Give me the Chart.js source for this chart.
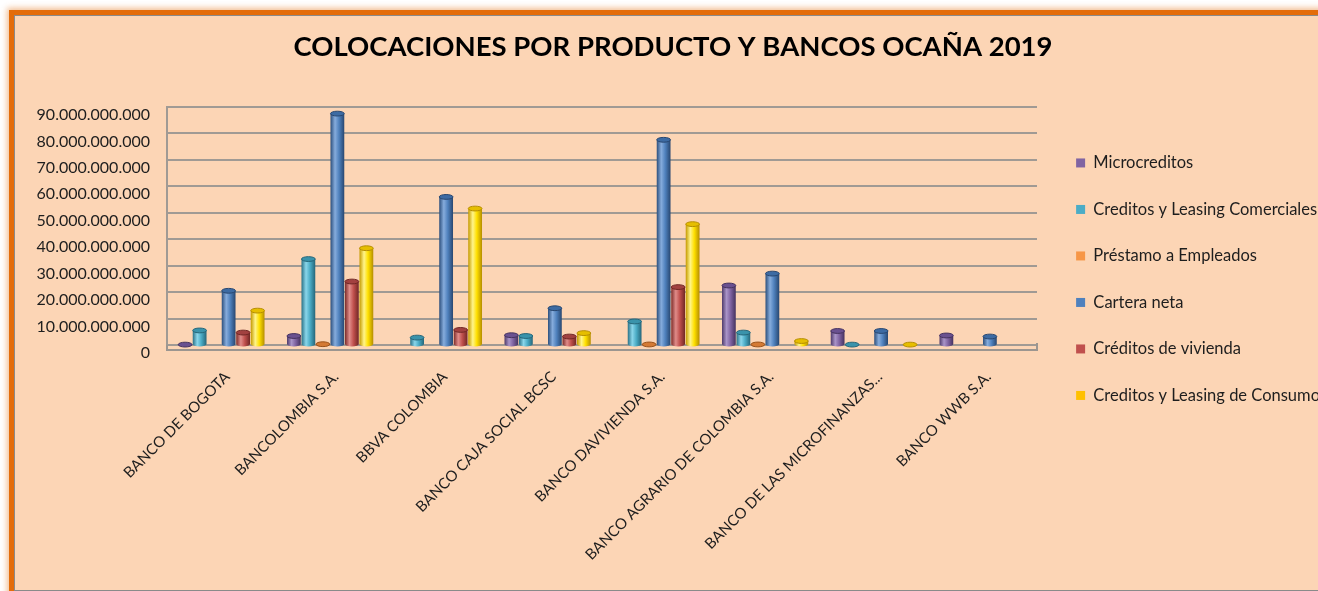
<!DOCTYPE html>
<html><head><meta charset="utf-8">
<script src="https://cdn.jsdelivr.net/npm/chart.js@4"></script>
<style>
html,body{margin:0;padding:0;background:#fff;overflow:hidden;width:1318px;height:591px;}
#frame{position:absolute;left:9px;top:10px;width:1340px;height:620px;border:5px solid #E36C0A;box-shadow:0 0 6px 2px rgba(227,108,10,0.45);}
#inner{position:absolute;left:14px;top:15px;width:1330px;height:574px;background:#FCD5B5;border:1px solid #8a8a8a;}
#c{position:absolute;left:16px;top:16px;}
</style></head><body>
<div id="frame"></div><div id="inner"></div>
<canvas id="c" width="1314" height="574"></canvas>
<script>
const TITLE = 'COLOCACIONES POR PRODUCTO Y BANCOS OCAÑA 2019';
const categories = ['BANCO DE BOGOTA','BANCOLOMBIA S.A.','BBVA COLOMBIA','BANCO CAJA SOCIAL BCSC','BANCO DAVIVIENDA S.A.','BANCO AGRARIO DE COLOMBIA S.A.','BANCO DE LAS MICROFINANZAS...','BANCO WWB S.A.'];
const seriesNames = ['Microcreditos','Creditos y Leasing Comerciales','Préstamo a Empleados','Cartera neta','Créditos de vivienda','Creditos y Leasing de Consumo'];
const microcreditos = [0.15e9, 3.4e9, null, 3.7e9, null, 22.5e9, 5.3e9, 3.6e9];
const comerciales  = [5.5e9, 32.5e9, 2.8e9, 3.4e9, 8.9e9, 4.7e9, 0.15e9, null];
const empleados    = [null, 0.3e9, null, null, 0.2e9, 0.2e9, null, null];
const carteraNeta  = [20.5e9, 87.5e9, 56e9, 13.9e9, 77.6e9, 27e9, 5.3e9, 3.2e9];
const vivienda     = [4.7e9, 24e9, 5.7e9, 3.2e9, 21.9e9, null, null, null];
const consumo      = [13e9, 36.6e9, 51.6e9, 4.5e9, 45.7e9, 1.5e9, 0.15e9, null];
const yTicks = [0,10e9,20e9,30e9,40e9,50e9,60e9,70e9,80e9,90e9];

const seriesValues = [microcreditos, comerciales, empleados, carteraNeta, vivienda, consumo];
const legendColors = ['#8064A2','#4BACC6','#F79646','#4F81BD','#C0504D','#FFC000'];
// [dark edge, highlight, base, dark edge right, top cap]
const shades = [
  ['#4E3A6A','#A994C8','#8064A2','#45325F','#6A5190'],
  ['#2A7186','#8AD6EA','#4BACC6','#256679','#3A93AB'],
  ['#A85A1E','#FCC494','#F79646','#9A521A','#D47A34'],
  ['#2C4F7C','#86ACDC','#4F81BD','#284770','#3D6BA3'],
  ['#7E2C2A','#E08C89','#C0504D','#712725','#A24140'],
  ['#C49A00','#FFF48A','#FFE000','#B58E00','#E6BE00']
];
const fmt = v => String(Math.round(v)).replace(/\B(?=(\d{3})+(?!\d))/g, '.');
const FONT = 'Lato';

const floorPlugin = {
  id:'floor',
  beforeDatasetsDraw(chart){
    const {ctx, chartArea:a} = chart;
    ctx.save();
    ctx.strokeStyle = '#9c9690'; ctx.lineWidth = 2;
    ctx.beginPath();
    ctx.moveTo(a.left, a.bottom); ctx.lineTo(a.left, a.bottom+5);
    ctx.lineTo(a.right, a.bottom+5); ctx.lineTo(a.right, a.bottom-2);
    ctx.stroke();
    ctx.restore();
    chart.data.datasets.forEach((ds,di)=>{
      const meta = chart.getDatasetMeta(di);
      const p = shades[di];
      meta.data.forEach((el,i)=>{
        if (ds.data[i] == null) return;
        const l = el.x - el.width/2, r = el.x + el.width/2;
        const g = ctx.createLinearGradient(l,0,r,0);
        g.addColorStop(0,p[0]); g.addColorStop(0.33,p[1]); g.addColorStop(0.62,p[2]); g.addColorStop(1,p[3]);
        el.options.backgroundColor = g;
        el.$grad = g;
      });
    });
  },
  afterDatasetsDraw(chart){
    const ctx = chart.ctx;
    ctx.save();
    chart.data.datasets.forEach((ds,di)=>{
      const meta = chart.getDatasetMeta(di);
      const p = shades[di];
      meta.data.forEach((el,i)=>{
        if (ds.data[i] == null) return;
        const rx = el.width/2, ry = 2.4;
        ctx.beginPath(); ctx.ellipse(el.x, el.base, rx, ry, 0, 0, Math.PI);
        ctx.fillStyle = el.$grad; ctx.fill();
        ctx.beginPath(); ctx.ellipse(el.x, el.y, rx, ry, 0, 0, Math.PI*2);
        ctx.fillStyle = p[4]; ctx.fill();
        ctx.strokeStyle = p[3]; ctx.lineWidth = 1; ctx.stroke();
      });
    });
    ctx.restore();
  }
};

const RIGHT_EDGE = 1021;
new Chart(document.getElementById('c'), {
  type:'bar',
  data:{
    labels: categories,
    datasets: seriesNames.map((n,i)=>({
      label:n, data:seriesValues[i],
      backgroundColor: (c)=>legendColors[c.datasetIndex],
      borderWidth:0,
      categoryPercentage:0.8, barPercentage:0.95
    }))
  },
  options:{
    responsive:false, animation:false, devicePixelRatio:1,
    layout:{padding:0},
    plugins:{
      title:{display:true, text:TITLE, color:'#000', font:{family:FONT, size:27.5, weight:'bold'}, padding:{top:14.5, bottom:43.5}},
      legend:{position:'right', align:'start', maxWidth:400,
        title:{display:true, text:' ', font:{size:1}, padding:{top:107.5,bottom:0}},
        labels:{boxWidth:9, boxHeight:9, padding:30, color:'#1e1e1e', font:{family:FONT, size:16.5}}},
      tooltip:{enabled:false}
    },
    scales:{
      x:{grid:{display:false}, border:{display:false},
        ticks:{autoSkip:false, minRotation:45, maxRotation:45, padding:15, labelOffset:6, color:'#1e1e1e', font:{family:FONT, size:15}},
        afterFit(s){ s.height = 245; }},
      y:{min:0, max:90e9, afterBuildTicks(s){ s.ticks = yTicks.map(v=>({value:v})); },
        grid:{color:'#a09a94', lineWidth:2, drawTicks:false},
        border:{display:true, color:'#a09a94', width:2},
        ticks:{callback:v=>fmt(v), padding:17, labelOffset:8, color:'#1e1e1e', font:{family:FONT, size:16}},
        afterFit(s){ s.width = 151; }},
      yr:{position:'right', display:true, grid:{display:false}, border:{display:false}, ticks:{display:false},
        afterFit(s){ s.width = Math.max(0, s.chart.width - (s.chart.legend ? s.chart.legend.width : 0) - RIGHT_EDGE); }}
    }
  },
  plugins:[floorPlugin]
});
</script>
</body></html>
